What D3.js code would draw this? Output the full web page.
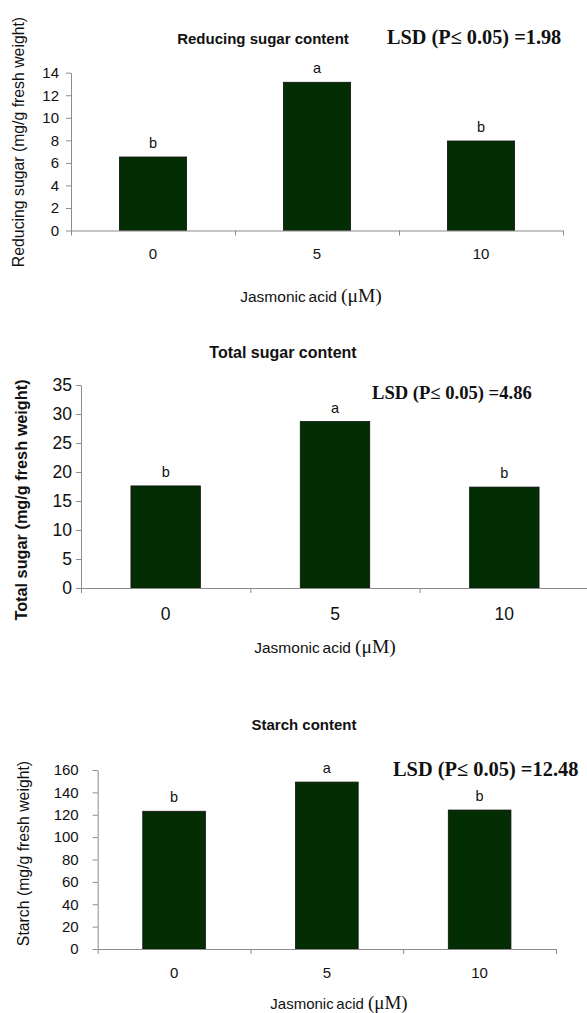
<!DOCTYPE html>
<html>
<head>
<meta charset="utf-8">
<script src="https://cdn.jsdelivr.net/npm/d3@7"></script>
<style>
  body { margin: 0; background: #fff; }
  svg text { font-family: "Liberation Sans", Arial, sans-serif; fill: #111; }
  .serif { font-family: "Liberation Serif", "Times New Roman", serif; }
</style>
</head>
<body>
<script>
// data
var doses = ["0", "5", "10"];

var reducingSugar = [6.52, 13.15, 7.94];
var totalSugar = [17.6, 28.7, 17.4];
var starch = [123.1, 149.2, 124.2];

var reducingLetters = ["b", "a", "b"];
var totalLetters = ["b", "a", "b"];
var starchLetters = ["b", "a", "b"];

var reducingTicks = [0, 2, 4, 6, 8, 10, 12, 14];
var totalTicks = [0, 5, 10, 15, 20, 25, 30, 35];
var starchTicks = [0, 20, 40, 60, 80, 100, 120, 140, 160];

var titles = ["Reducing sugar content", "Total sugar content", "Starch content"];
var yTitles = ["Reducing sugar (mg/g fresh  weight)", "Total sugar (mg/g fresh  weight)", "Starch (mg/g fresh weight)"];
var lsdLabels = ["LSD (P\u2264 0.05) =1.98", "LSD (P\u2264 0.05) =4.86", "LSD (P\u2264 0.05) =12.48"];

var width = 587,
    height = 1013,
    barColor = "#032d03",
    axisColor = "#8c8c8c";

// layout of the three stacked panels
var panels = [
  { values: reducingSugar, letters: reducingLetters, ticks: reducingTicks, max: 14,
    left: 71, right: 563, top: 72.7, bottom: 230.5,
    tickFont: 15, tickPad: 7, xPad: 17.5,
    title: { x: 263, y: 44, size: 15 },
    ytitle: { x: 18, y: 142, size: 15.8, weight: "normal" },
    lsd: { x: 387, y: 44, size: 20.3 },
    xtitle: { x: 311, y: 302, size: 15.5, mu: 19.5 } },
  { values: totalSugar, letters: totalLetters, ticks: totalTicks, max: 35,
    left: 81, right: 589, top: 385, bottom: 588,
    tickFont: 17.5, tickPad: 4, xPad: 19.5,
    title: { x: 283, y: 358, size: 16 },
    ytitle: { x: 21, y: 500, size: 16.3, weight: "bold" },
    lsd: { x: 372, y: 398.5, size: 18.6 },
    xtitle: { x: 325, y: 653, size: 15.5, mu: 19.5 } },
  { values: starch, letters: starchLetters, ticks: starchTicks, max: 160,
    left: 97.7, right: 556, top: 770, bottom: 949,
    tickFont: 15, tickPad: 14, xPad: 18,
    title: { x: 304, y: 730, size: 15 },
    ytitle: { x: 23.5, y: 853.5, size: 15.8, weight: "normal" },
    lsd: { x: 393, y: 776, size: 20.4 },
    xtitle: { x: 339, y: 1008.5, size: 15, mu: 19 } }
];

var svg = d3.select("body").append("svg")
    .attr("width", width)
    .attr("height", height);

panels.forEach(function(p, i) {
  var g = svg.append("g");

  var x = d3.scaleBand()
      .domain(doses)
      .range([p.left, p.right])
      .paddingInner(0.59)
      .paddingOuter(0.295);

  var y = d3.scaleLinear()
      .domain([0, p.max])
      .range([p.bottom, p.top]);

  // boundaries between categories, for the x tick marks
  var xEdge = d3.scaleLinear()
      .domain([0, doses.length])
      .range([p.left, p.right]);

  // bars
  g.selectAll("rect")
      .data(p.values)
    .enter().append("rect")
      .attr("x", function(d, j) { return x(doses[j]); })
      .attr("y", function(d) { return y(d); })
      .attr("width", x.bandwidth())
      .attr("height", function(d) { return y(0) - y(d); })
      .attr("fill", barColor)
      .attr("stroke", "#111")
      .attr("stroke-width", 0.8);

  // significance letters
  g.selectAll(".letter")
      .data(p.values)
    .enter().append("text")
      .attr("class", "letter")
      .attr("x", function(d, j) { return x(doses[j]) + x.bandwidth() / 2; })
      .attr("y", function(d) { return y(d) - 9; })
      .attr("text-anchor", "middle")
      .style("font-size", "14.5px")
      .text(function(d, j) { return p.letters[j]; });

  // y axis
  var yAxis = g.append("g")
      .attr("transform", "translate(" + p.left + ",0)")
      .call(d3.axisLeft(y).tickValues(p.ticks).tickSize(5).tickSizeOuter(0).tickPadding(p.tickPad));
  yAxis.attr("font-family", null).attr("font-size", null);
  yAxis.selectAll("text").style("font-size", p.tickFont + "px");

  // x axis line with boundary ticks
  g.append("g")
      .attr("transform", "translate(0," + p.bottom + ")")
      .call(d3.axisBottom(xEdge).tickValues(d3.range(doses.length + 1)).tickSize(5).tickSizeOuter(0).tickFormat(""));

  // category labels
  var xLabels = g.append("g")
      .attr("transform", "translate(0," + p.bottom + ")")
      .call(d3.axisBottom(x).tickSize(0).tickPadding(p.xPad));
  xLabels.select(".domain").remove();
  xLabels.attr("font-family", null).attr("font-size", null);
  xLabels.selectAll("text").style("font-size", p.tickFont + "px");

  g.selectAll(".domain, .tick line").attr("stroke", axisColor);
  g.selectAll(".tick text").attr("fill", "#111");

  // title
  g.append("text")
      .attr("x", p.title.x)
      .attr("y", p.title.y)
      .attr("text-anchor", "middle")
      .style("font-size", p.title.size + "px")
      .style("font-weight", "bold")
      .text(titles[i]);

  // LSD note
  g.append("text")
      .attr("class", "serif")
      .attr("x", p.lsd.x)
      .attr("y", p.lsd.y)
      .style("font-size", p.lsd.size + "px")
      .style("font-weight", "bold")
      .text(lsdLabels[i]);

  // y title
  g.append("text")
      .attr("transform", "translate(" + p.ytitle.x + "," + p.ytitle.y + ") rotate(-90)")
      .attr("text-anchor", "middle")
      .attr("dy", "0.35em")
      .style("font-size", p.ytitle.size + "px")
      .style("font-weight", p.ytitle.weight)
      .text(yTitles[i]);

  // x title
  var xt = g.append("text")
      .attr("x", p.xtitle.x)
      .attr("y", p.xtitle.y)
      .attr("text-anchor", "middle")
      .style("font-size", p.xtitle.size + "px");
  xt.append("tspan").style("word-spacing", "-1.5px").text("Jasmonic acid");
  xt.append("tspan").attr("class", "serif").attr("dx", 4).style("font-size", p.xtitle.mu + "px").text("(\u03bcM)");
});
</script>
</body>
</html>
